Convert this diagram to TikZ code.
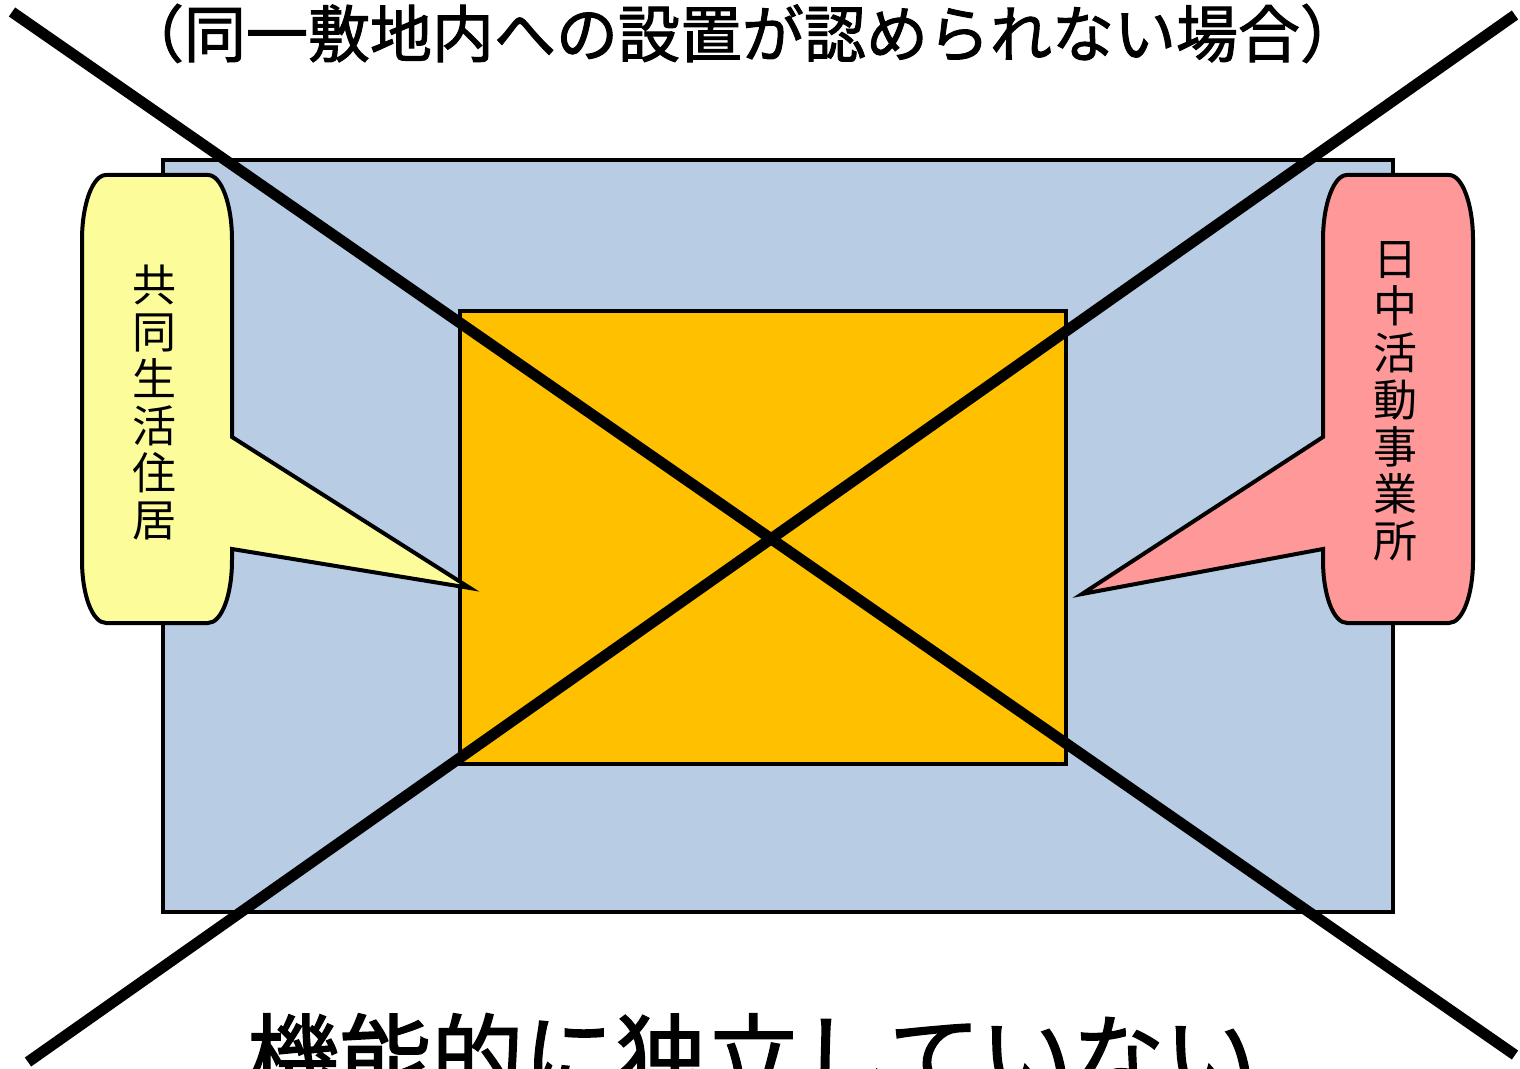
\documentclass[tikz,border=0pt]{standalone}
\usepackage{fontspec}
\newfontfamily\jp{Noto Sans CJK JP}
\newfontfamily\jpm[FakeBold=1.6]{Noto Sans CJK JP}
\definecolor{bgblue}{HTML}{B8CCE4}
\definecolor{orng}{HTML}{FFC000}
\definecolor{yel}{HTML}{FCFC9A}
\definecolor{pnk}{HTML}{FF9999}
\begin{document}
\begin{tikzpicture}[x=0.5pt,y=-0.5pt,
  box/.style={draw=black,line width=2pt},
  callout/.style={draw=black,line width=2pt,line join=miter},
  vtext/.style={font=\jp\fontsize{22pt}{23.5pt}\selectfont,align=center,inner sep=0pt},
  cross/.style={line width=5.5pt,black}]
\useasboundingbox (0,0) rectangle (1520,1069);
% background site
\draw[box,fill=bgblue] (163,160) rectangle (1393,912);
\draw[box,fill=orng] (460,311) rectangle (1066,764);
% left callout
\draw[callout,fill=yel] (106,175) -- (208,175) .. controls (221.3,175) and (232,204.1) .. (232,240)
  -- (232,437) -- (470,588) -- (232,549) -- (232,560)
  .. controls (232,595.9) and (221.3,623) .. (208,623) -- (106,623)
  .. controls (92.7,623) and (82,595.9) .. (82,560) -- (82,240)
  .. controls (82,204.1) and (92.7,175) .. (106,175) -- cycle;
% right callout
\draw[callout,fill=pnk] (1449,175) -- (1347,175) .. controls (1333.7,175) and (1323,204.1) .. (1323,240)
  -- (1323,437) -- (1082,594) -- (1323,549) -- (1323,560)
  .. controls (1323,595.9) and (1333.7,623) .. (1347,623) -- (1449,623)
  .. controls (1462.3,623) and (1473,595.9) .. (1473,560) -- (1473,240)
  .. controls (1473,204.1) and (1462.3,175) .. (1449,175) -- cycle;
\node[vtext] (lt) at (154,402) {共\\同\\生\\活\\住\\居};
\node[vtext] (rt) at (1395,401) {日\\中\\活\\動\\事\\業\\所};
% title and bottom text
\node[font=\jpm\fontsize{31pt}{33pt}\selectfont,anchor=base,inner sep=0pt] (title) at (742,57) {（同一敷地内への設置が認められない場合）};
\node[font=\jpm\fontsize{46pt}{50pt}\selectfont,anchor=base,inner sep=0pt] (bottom) at (752,1091) {機能的に独立していない};
% cross
\coordinate (a1) at (12,12);
\coordinate (a2) at (1515,1055);
\coordinate (b1) at (1515,15);
\coordinate (b2) at (28,1062);
\draw[cross] (a1) -- (a2);
\draw[cross] (b1) -- (b2);
\end{tikzpicture}
\end{document}
